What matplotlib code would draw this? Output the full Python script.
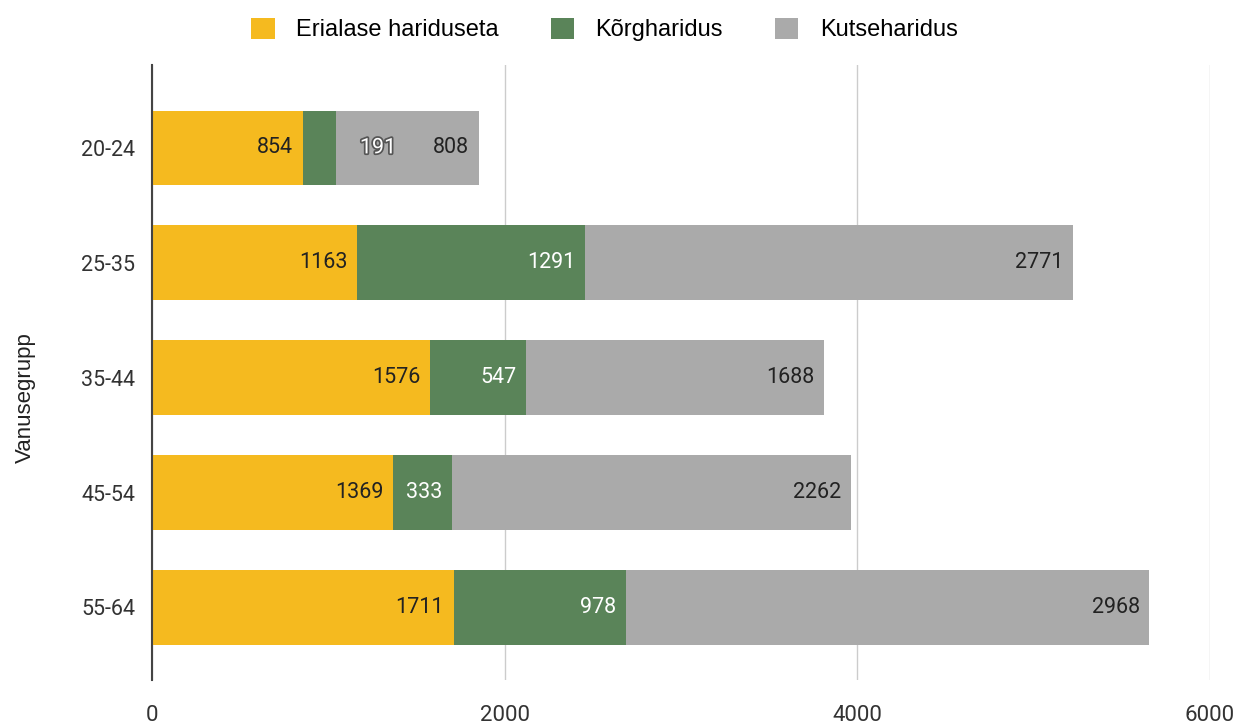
import matplotlib.pyplot as plt
import matplotlib.patheffects as pe

plt.rcParams['font.family'] = ['Roboto', 'DejaVu Sans']

grupid = ['20-24', '25-35', '35-44', '45-54', '55-64']
erialase = [854, 1163, 1576, 1369, 1711]
korg = [191, 1291, 547, 333, 978]
kutse = [808, 2771, 1688, 2262, 2968]
x_ticks = [0, 2000, 4000, 6000]

kollane = '#F5BA1F'
roheline = '#5A8459'
hall = '#AAAAAA'

fig = plt.figure(figsize=(12.46, 7.24), dpi=100)
ax = fig.add_axes([0.122, 0.061, 0.849, 0.849])

y = list(range(len(grupid)))
h = 0.65
ax.barh(y, erialase, height=h, color=kollane, label='Erialase hariduseta', zorder=3)
vasak2 = erialase
ax.barh(y, korg, height=h, left=vasak2, color=roheline, label='Kõrgharidus', zorder=3)
vasak3 = [a + b for a, b in zip(erialase, korg)]
ax.barh(y, kutse, height=h, left=vasak3, color=hall, label='Kutseharidus', zorder=3)

# sildid
for i in y:
    ax.annotate(str(erialase[i]), (erialase[i], i), xytext=(-7, 0), textcoords='offset points',
                ha='right', va='center', fontsize=15.5, color='#222222', zorder=4)
    lopp = vasak3[i]
    if korg[i] < 300:
        ax.annotate(str(korg[i]), (lopp, i), xytext=(17, 0), textcoords='offset points',
                    ha='left', va='center', fontsize=15.5, color='white', zorder=4,
                    path_effects=[pe.withStroke(linewidth=2.5, foreground='#555555')])
    else:
        ax.annotate(str(korg[i]), (lopp, i), xytext=(-7, 0), textcoords='offset points',
                    ha='right', va='center', fontsize=15.5, color='white', zorder=4)
    ax.annotate(str(kutse[i]), (lopp + kutse[i], i), xytext=(-7, 0), textcoords='offset points',
                ha='right', va='center', fontsize=15.5, color='#222222', zorder=4)

ax.set_xlim(0, 6000)
ax.set_ylim(4.63, -0.72)
ax.set_yticks(y)
ax.set_yticklabels(grupid, fontsize=15.5, color='#333333')
ax.set_xticks(x_ticks)
ax.set_xticklabels([str(t) for t in x_ticks], fontsize=16, color='#333333')
ax.tick_params(length=0, pad=12)
ax.tick_params(axis='x', pad=18)
ax.grid(axis='x', color='#CCCCCC', linewidth=1, zorder=0)
for s in ['top', 'right', 'bottom']:
    ax.spines[s].set_visible(False)
ax.spines['left'].set_color('#444444')
ax.spines['left'].set_linewidth(1.5)
ax.spines['left'].set_zorder(5)
ax.set_ylabel('Vanusegrupp', fontsize=16, color='#222222',
              family=['Liberation Sans', 'DejaVu Sans'])
ax.yaxis.set_label_coords(-0.11, 0.46)

fig.legend(loc='upper center', bbox_to_anchor=(0.485, 1.005), ncol=3, frameon=False,
           prop={'family': ['Liberation Sans', 'DejaVu Sans'], 'size': 17},
           handlelength=1.0, handleheight=1.0, columnspacing=2.2,
           handletextpad=0.9)

plt.savefig('out.png', dpi=100)
